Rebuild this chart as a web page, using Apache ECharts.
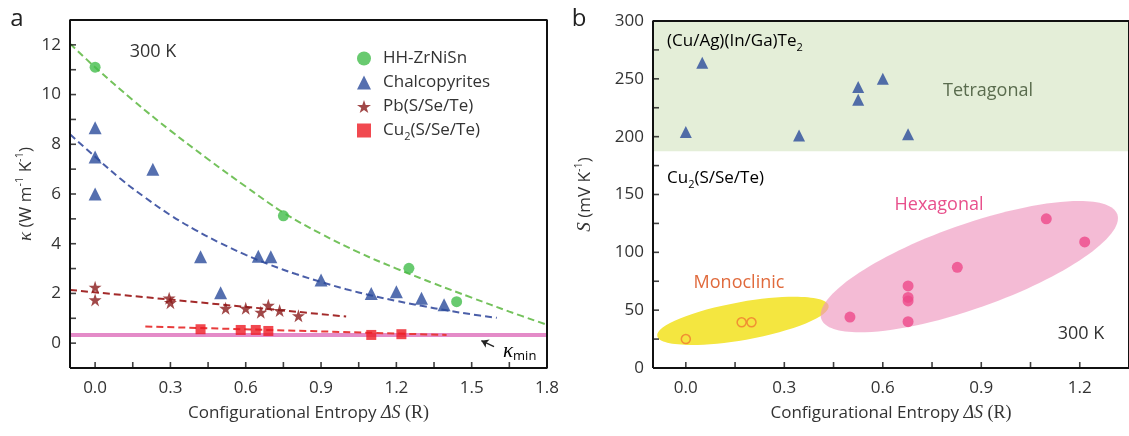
<!DOCTYPE html>
<html><head><meta charset="utf-8">
<script src="https://cdn.jsdelivr.net/npm/echarts@6/dist/echarts.min.js"></script>
<style>html,body{margin:0;padding:0;background:#fff}#c{width:1129px;height:436px}</style>
</head><body><div id="c"></div>
<script>
// ---------- data (panel a) ----------
const hhX = [0.0, 0.75, 1.25, 1.44];
const hhY = [11.1, 5.12, 3.01, 1.67];
const chalX = [0.0, 0.0, 0.0, 0.23, 0.42, 0.50, 0.65, 0.70, 0.90, 1.10, 1.20, 1.30, 1.39];
const chalY = [8.67, 7.49, 6.0, 7.0, 3.48, 2.03, 3.5, 3.48, 2.54, 2.0, 2.07, 1.81, 1.54];
const pbX = [0.0, 0.0, 0.295, 0.30, 0.52, 0.60, 0.66, 0.69, 0.735, 0.81];
const pbY = [2.25, 1.74, 1.81, 1.63, 1.40, 1.40, 1.24, 1.52, 1.31, 1.10];
const cuX = [0.42, 0.58, 0.64, 0.69, 1.10, 1.22];
const cuY = [0.56, 0.53, 0.53, 0.49, 0.33, 0.36];
const hhFitX = [-0.1, 0, 0.15, 0.3, 0.45, 0.6, 0.75, 0.9, 1.05, 1.2, 1.35, 1.5, 1.65, 1.8];
const hhFitY = [12.05, 11.1, 9.78, 8.55, 7.4, 6.3, 5.25, 4.4, 3.65, 3.0, 2.4, 1.83, 1.27, 0.74];
const chalFitX = [-0.1, 0, 0.1, 0.2, 0.3, 0.4, 0.5, 0.6, 0.7, 0.8, 0.9, 1.0, 1.1, 1.2, 1.3, 1.4, 1.5, 1.6];
const chalFitY = [8.4, 7.5, 6.62, 5.85, 5.15, 4.55, 4.02, 3.55, 3.14, 2.78, 2.46, 2.17, 1.92, 1.7, 1.5, 1.32, 1.16, 1.02];
const pbFitX = [-0.1, 1.0];
const pbFitY = [2.14, 1.07];
const cuFitX = [0.2, 1.4];
const cuFitY = [0.67, 0.33];
const kminX = [-0.1, 1.8];
const kminY = [0.33, 0.33];
const kminArrowX = [1.589, 1.5385];
const kminArrowY = [-0.14, 0.10];
// ---------- data (panel b) ----------
const tetX = [0.0, 0.05, 0.345, 0.525, 0.525, 0.60, 0.677];
const tetY = [204, 264, 201, 243, 232, 250, 202];
const hexX = [0.50, 0.677, 0.677, 0.677, 0.677, 0.827, 1.098, 1.215];
const hexY = [44, 71, 61, 58, 40, 87, 129, 109];
const monoX = [0.0, 0.17, 0.20];
const monoY = [25, 39.5, 39.5];
const tetBand = [187.5, 300];
const regionX = [0.174, 0.8635];   // monoclinic, hexagonal region centres
const regionY = [40.7, 87.6];
// ---------- axis ranges, tick labels ----------
const aXRange = [-0.1, 1.8];
const aYRange = [-1, 13];
const bXRange = [-0.1, 1.35];
const bYRange = [0, 300];
const aXLabels = [0, 0.3, 0.6, 0.9, 1.2, 1.5, 1.8];
const aXTicks = [0, 0.15, 0.3, 0.45, 0.6, 0.75, 0.9, 1.05, 1.2, 1.35, 1.5, 1.65];
const aYLabels = [0, 2, 4, 6, 8, 10, 12];
const aYTicks = [0, 1, 2, 3, 4, 5, 6, 7, 8, 9, 10, 11, 12];
const bXLabels = [0, 0.3, 0.6, 0.9, 1.2];
const bXTicks = [0, 0.15, 0.3, 0.45, 0.6, 0.75, 0.9, 1.05, 1.2];
const bYLabels = [0, 50, 100, 150, 200, 250, 300];
const bYTicks = [25, 50, 75, 100, 125, 150, 175, 200, 225, 250, 275];

const pts = (xs, ys) => xs.map((x, i) => [x, ys[i]]);
const FONT = "'Open Sans','Noto Sans',sans-serif";
const SERIF = "'Liberation Serif','DejaVu Serif',serif";
const TXT = '#333';
const FRAME = '#111';
const STAR = 'path://M50,0L61.8,35.1L98.9,35.1L68.8,56.8L80.2,91.9L50,70L19.8,91.9L31.2,56.8L1.1,35.1L38.2,35.1Z';

const xTitleStyle = () => ({
  rich: {
    n: {fontFamily: FONT, fontSize: 17, color: TXT, lineHeight: 22},
    i: {fontFamily: SERIF, fontStyle: 'italic', fontSize: 18, color: TXT, lineHeight: 22},
    r: {fontFamily: SERIF, fontSize: 18, color: TXT, lineHeight: 22}
  }
});
const xTitle = '{n|Configurational Entropy }{i|ΔS}{r| (R)}';
const supRich = () => ({
  n: {fontFamily: FONT, fontSize: 17, color: TXT, lineHeight: 24},
  i: {fontFamily: SERIF, fontStyle: 'italic', fontSize: 19, color: TXT, lineHeight: 24},
  s: {fontFamily: FONT, fontSize: 11, color: TXT, lineHeight: 12, verticalAlign: 'top'}
});
const lab = (vals, fmt, margin) => ({customValues: vals, formatter: fmt, margin: margin, fontFamily: FONT, fontSize: 17, color: TXT});
const dash = [7, 4];
const subRich = (first) => ({
  f: {fontFamily: FONT, fontSize: 17, color: TXT, lineHeight: 24, padding: [0, 0, 0, first]},
  n: {fontFamily: FONT, fontSize: 17, color: TXT, lineHeight: 24},
  b: {fontFamily: FONT, fontSize: 11, color: TXT, lineHeight: 12, verticalAlign: 'bottom'}
});

// plot frame drawn as a line series along the axis extents
function frameSeries(idx, xr, yr) {
  return {type: 'line', name: 'frame' + idx, xAxisIndex: idx, yAxisIndex: idx, silent: true, clip: false, z: 10,
    showSymbol: false, symbol: 'none',
    data: [[xr[0], yr[0]], [xr[1], yr[0]], [xr[1], yr[1]], [xr[0], yr[1]], [xr[0], yr[0]]],
    lineStyle: {color: FRAME, width: 2, type: 'solid'}};
}
// inward ticks drawn as thin rect symbols at the tick values
function tickSeries(idx, xr, yr, xt, yt) {
  return [
    {type: 'scatter', name: 'xticks' + idx, xAxisIndex: idx, yAxisIndex: idx, silent: true, clip: false, z: 10,
     symbol: 'rect', symbolSize: [1.6, 6], symbolOffset: [0, -3], itemStyle: {color: FRAME},
     data: xt.map(v => [v, yr[0]])},
    {type: 'scatter', name: 'yticks' + idx, xAxisIndex: idx, yAxisIndex: idx, silent: true, clip: false, z: 10,
     symbol: 'rect', symbolSize: [6, 1.6], symbolOffset: [3, 0], itemStyle: {color: FRAME},
     data: yt.map(v => [xr[0], v])}
  ];
}

const chart = echarts.init(document.getElementById('c'));
const noLine = {show: false};
const option = {
  animation: false,
  grid: [
    {left: 70, top: 20, width: 477, height: 348},
    {left: 653, top: 21, width: 485, height: 347}
  ],
  xAxis: [
    {gridIndex: 0, type: 'value', min: aXRange[0], max: aXRange[1], axisLine: noLine, axisTick: noLine,
     axisLabel: lab(aXLabels, v => v.toFixed(1), 12), splitLine: {show: false},
     name: xTitle, nameLocation: 'middle', nameGap: 34, nameTextStyle: xTitleStyle()},
    {gridIndex: 1, type: 'value', min: bXRange[0], max: bXRange[1], axisLine: noLine, axisTick: noLine,
     axisLabel: lab(bXLabels, v => v.toFixed(1), 12), splitLine: {show: false},
     name: xTitle, nameLocation: 'middle', nameGap: 34, nameTextStyle: xTitleStyle()}
  ],
  yAxis: [
    {gridIndex: 0, type: 'value', min: aYRange[0], max: aYRange[1], axisLine: noLine, axisTick: noLine,
     axisLabel: lab(aYLabels, v => String(v), 9), splitLine: {show: false},
     name: '{i|κ}{n| (W m}{s|-1}{n| K}{s|-1}{n|)}', nameLocation: 'middle', nameRotate: 90, nameGap: 32,
     nameTextStyle: {rich: supRich()}},
    {gridIndex: 1, type: 'value', min: bYRange[0], max: bYRange[1], axisLine: noLine, axisTick: noLine,
     axisLabel: lab(bYLabels, v => String(v), 9), splitLine: {show: false},
     name: '{i|S}{n| (mV K}{s|-1}{n|)}', nameLocation: 'middle', nameRotate: 90, nameGap: 56,
     nameTextStyle: {rich: supRich()}}
  ],
  legend: {
    orient: 'vertical', left: 352, top: 45, itemWidth: 14, itemHeight: 14, itemGap: 7,
    selectedMode: false,
    textStyle: {fontFamily: FONT, fontSize: 17, color: TXT, rich: subRich(7)},
    formatter: name => name === 'Cu2(S/Se/Te)' ? '{f|Cu}{b|2}{n|(S/Se/Te)}' : '{f|' + name + '}',
    data: [
      {name: 'HH-ZrNiSn', icon: 'circle'},
      {name: 'Chalcopyrites', icon: 'triangle'},
      {name: 'Pb(S/Se/Te)', icon: STAR},
      {name: 'Cu2(S/Se/Te)', icon: 'rect'}
    ]
  },
  series: [
    {type: 'line', name: 'kmin', xAxisIndex: 0, yAxisIndex: 0, data: pts(kminX, kminY), showSymbol: false,
     lineStyle: {color: '#e48bc8', width: 4}, z: 1, silent: true,
     markLine: {silent: true, symbol: ['none', 'arrow'], symbolSize: 7, label: {show: false},
       lineStyle: {color: '#222', width: 1.4, type: 'solid'},
       data: [[{coord: [kminArrowX[0], kminArrowY[0]]}, {coord: [kminArrowX[1], kminArrowY[1]]}]]}},
    {type: 'line', name: 'hhFit', xAxisIndex: 0, yAxisIndex: 0, data: pts(hhFitX, hhFitY), showSymbol: false, smooth: 0.4,
     lineStyle: {color: '#74c25c', width: 2, type: dash}, z: 2, silent: true},
    {type: 'line', name: 'chalFit', xAxisIndex: 0, yAxisIndex: 0, data: pts(chalFitX, chalFitY), showSymbol: false, smooth: 0.4,
     lineStyle: {color: '#4a5ea8', width: 2, type: dash}, z: 2, silent: true},
    {type: 'line', name: 'pbFit', xAxisIndex: 0, yAxisIndex: 0, data: pts(pbFitX, pbFitY), showSymbol: false,
     lineStyle: {color: '#a32a2a', width: 2, type: dash}, z: 2, silent: true},
    {type: 'line', name: 'cuFit', xAxisIndex: 0, yAxisIndex: 0, data: pts(cuFitX, cuFitY), showSymbol: false,
     lineStyle: {color: '#e83c3c', width: 2, type: dash}, z: 2, silent: true},
    {type: 'scatter', name: 'HH-ZrNiSn', xAxisIndex: 0, yAxisIndex: 0, data: pts(hhX, hhY), symbol: 'circle', symbolSize: 11,
     itemStyle: {color: '#42bd4b'}, z: 3},
    {type: 'scatter', name: 'Chalcopyrites', xAxisIndex: 0, yAxisIndex: 0, data: pts(chalX, chalY), symbol: 'triangle', symbolSize: 13,
     itemStyle: {color: '#2a4b9b'}, z: 3},
    {type: 'scatter', name: 'Pb(S/Se/Te)', xAxisIndex: 0, yAxisIndex: 0, data: pts(pbX, pbY), symbol: STAR, symbolSize: 13,
     itemStyle: {color: '#8a1a1a'}, z: 3},
    {type: 'scatter', name: 'Cu2(S/Se/Te)', xAxisIndex: 0, yAxisIndex: 0, data: pts(cuX, cuY), symbol: 'rect', symbolSize: 10,
     itemStyle: {color: '#ee1c24'}, z: 3},
    {type: 'custom', name: 'regions', xAxisIndex: 1, yAxisIndex: 1, data: pts(regionX, regionY), silent: true, z: 1,
     renderItem: (params, api) => {
       const c = api.coord([api.value(0), api.value(1)]);
       const shapes = [
         {rx: 87, ry: 19, rot: 10, fill: '#f4e640'},
         {rx: 157, ry: 42, rot: 19.5, fill: 'rgba(238,150,190,0.65)'}
       ];
       const s = shapes[params.dataIndex];
       return {type: 'ellipse', x: c[0], y: c[1], rotation: s.rot * Math.PI / 180,
               shape: {cx: 0, cy: 0, rx: s.rx, ry: s.ry}, style: {fill: s.fill}};
     }},
    {type: 'scatter', name: '(Cu/Ag)(In/Ga)Te2', xAxisIndex: 1, yAxisIndex: 1, data: pts(tetX, tetY), symbol: 'triangle', symbolSize: 12,
     itemStyle: {color: '#2a4b9b'}, z: 3,
     markArea: {silent: true, itemStyle: {color: '#e4eed8'}, data: [[{yAxis: tetBand[0]}, {yAxis: tetBand[1]}]]}},
    {type: 'scatter', name: 'Hexagonal', xAxisIndex: 1, yAxisIndex: 1, data: pts(hexX, hexY), symbol: 'circle', symbolSize: 11,
     itemStyle: {color: '#ee4a8a'}, z: 3},
    {type: 'scatter', name: 'Monoclinic', xAxisIndex: 1, yAxisIndex: 1, data: pts(monoX, monoY), symbol: 'circle', symbolSize: 9,
     itemStyle: {color: 'rgba(0,0,0,0)', borderColor: '#f07a30', borderWidth: 1.5}, z: 3},
    frameSeries(0, aXRange, aYRange),
    frameSeries(1, bXRange, bYRange),
    ...tickSeries(0, aXRange, aYRange, aXTicks, aYTicks),
    ...tickSeries(1, bXRange, bYRange, bXTicks, bYTicks)
  ],
  graphic: {elements: [
    {type: 'text', z: 50, x: 17, y: 19, style: {text: 'a', font: "24px " + FONT, fill: '#222', align: 'center', verticalAlign: 'middle'}},
    {type: 'text', z: 50, x: 579, y: 19, style: {text: 'b', font: "24px " + FONT, fill: '#222', align: 'center', verticalAlign: 'middle'}},
    {type: 'text', z: 50, x: 153, y: 52, style: {text: '300 K', font: "18px " + FONT, fill: TXT, align: 'center', verticalAlign: 'middle'}},
    {type: 'text', z: 50, x: 1081, y: 334, style: {text: '300 K', font: "18px " + FONT, fill: TXT, align: 'center', verticalAlign: 'middle'}},
    {type: 'text', z: 50, x: 503, y: 351, style: {text: '{k|κ}{m|min}', verticalAlign: 'middle',
      rich: {k: {fontFamily: SERIF, fontStyle: 'italic', fontSize: 21, color: '#222', lineHeight: 24},
             m: {fontFamily: FONT, fontSize: 13, color: '#222', lineHeight: 14, verticalAlign: 'bottom'}}}},
    {type: 'text', z: 50, x: 667, y: 41, style: {text: '{n|(Cu/Ag)(In/Ga)Te}{b|2}', verticalAlign: 'middle', rich: subRich(0)}},
    {type: 'text', z: 50, x: 667, y: 178, style: {text: '{n|Cu}{b|2}{n|(S/Se/Te)}', verticalAlign: 'middle', rich: subRich(0)}},
    {type: 'text', z: 50, x: 988, y: 91, style: {text: 'Tetragonal', font: "18px " + FONT, fill: '#5a6c4e', align: 'center', verticalAlign: 'middle'}},
    {type: 'text', z: 50, x: 939, y: 205, style: {text: 'Hexagonal', font: "18px " + FONT, fill: '#e8508c', align: 'center', verticalAlign: 'middle'}},
    {type: 'text', z: 50, x: 739, y: 283, style: {text: 'Monoclinic', font: "18px " + FONT, fill: '#e06a3c', align: 'center', verticalAlign: 'middle'}}
  ]}
};
chart.setOption(option);
</script>
</body></html>
